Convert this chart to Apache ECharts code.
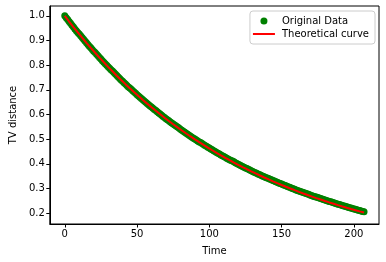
<!DOCTYPE html>
<html>
<head>
<meta charset="utf-8">
<script src="https://cdn.jsdelivr.net/npm/echarts@6/dist/echarts.min.js"></script>
<style>
html,body{margin:0;padding:0;background:#fff;}
#c{width:386px;height:262px;}
</style>
</head>
<body>
<div id="c"></div>
<script>
var dataTimes = [0,1,2,3,4,5,6,7,8,9,10,11,12,13,14,15,16,17,18,19,20,21,22,23,24,25,26,27,28,29,30,31,32,33,34,35,36,37,38,39,40,41,42,43,44,45,46,47,48,49,50,51,52,53,54,55,56,57,58,59,60,61,62,63,64,65,66,67,68,69,70,71,72,73,74,75,76,77,78,79,80,81,82,83,84,85,86,87,88,89,90,91,92,93,94,95,96,97,98,99,100,101,102,103,104,105,106,107,108,109,110,111,112,113,114,115,116,117,118,119,120,121,122,123,124,125,126,127,128,129,130,131,132,133,134,135,136,137,138,139,140,141,142,143,144,145,146,147,148,149,150,151,152,153,154,155,156,157,158,159,160,161,162,163,164,165,166,167,168,169,170,171,172,173,174,175,176,177,178,179,180,181,182,183,184,185,186,187,188,189,190,191,192,193,194,195,196,197,198,199,200,201,202,203,204,205,206,207];
var originalData = [1.000,0.992,0.985,0.977,0.970,0.962,0.955,0.947,0.940,0.933,0.926,0.919,0.912,0.905,0.898,0.891,0.884,0.877,0.871,0.864,0.857,0.851,0.844,0.838,0.831,0.825,0.818,0.812,0.806,0.800,0.794,0.788,0.781,0.776,0.770,0.764,0.758,0.752,0.746,0.740,0.735,0.729,0.724,0.718,0.712,0.707,0.702,0.696,0.691,0.686,0.680,0.675,0.670,0.665,0.660,0.655,0.650,0.645,0.640,0.635,0.630,0.625,0.620,0.616,0.611,0.606,0.602,0.597,0.592,0.588,0.583,0.579,0.575,0.570,0.566,0.562,0.557,0.553,0.549,0.545,0.540,0.536,0.532,0.528,0.524,0.520,0.516,0.512,0.508,0.504,0.501,0.497,0.493,0.489,0.486,0.482,0.478,0.474,0.471,0.467,0.464,0.460,0.457,0.453,0.450,0.446,0.443,0.440,0.436,0.433,0.430,0.427,0.423,0.420,0.417,0.414,0.411,0.408,0.404,0.401,0.398,0.395,0.392,0.389,0.386,0.383,0.381,0.378,0.375,0.372,0.369,0.366,0.364,0.361,0.358,0.356,0.353,0.350,0.348,0.345,0.343,0.340,0.337,0.335,0.332,0.330,0.327,0.325,0.322,0.320,0.318,0.315,0.313,0.311,0.308,0.306,0.304,0.301,0.299,0.297,0.294,0.292,0.290,0.288,0.286,0.284,0.282,0.280,0.278,0.276,0.273,0.271,0.269,0.267,0.265,0.263,0.261,0.259,0.257,0.255,0.253,0.251,0.249,0.247,0.246,0.244,0.242,0.240,0.238,0.236,0.235,0.233,0.231,0.229,0.228,0.226,0.224,0.222,0.221,0.219,0.217,0.216,0.214,0.212,0.211,0.209,0.207,0.206];
var curveTimes = [0,3,6,9,12,15,18,21,24,27,30,33,36,39,42,45,48,51,54,57,60,63,66,69,72,75,78,81,84,87,90,93,96,99,102,105,108,111,114,117,120,123,126,129,132,135,138,141,144,147,150,153,156,159,162,165,168,171,174,177,180,183,186,189,192,195,198,201,204,207];
var theoreticalCurve = [1.0000,0.9771,0.9548,0.9329,0.9116,0.8907,0.8703,0.8504,0.8309,0.8119,0.7933,0.7752,0.7574,0.7401,0.7231,0.7066,0.6904,0.6746,0.6592,0.6441,0.6293,0.6149,0.6008,0.5871,0.5737,0.5605,0.5477,0.5352,0.5229,0.5110,0.4993,0.4878,0.4767,0.4658,0.4551,0.4447,0.4345,0.4246,0.4148,0.4053,0.3961,0.3870,0.3781,0.3695,0.3610,0.3527,0.3447,0.3368,0.3291,0.3215,0.3142,0.3070,0.2999,0.2931,0.2864,0.2798,0.2734,0.2672,0.2610,0.2551,0.2492,0.2435,0.2380,0.2325,0.2272,0.2220,0.2169,0.2120,0.2071,0.2024];
var xTicks = [0,50,100,150,200];
var yTicks = [0.2,0.3,0.4,0.5,0.6,0.7,0.8,0.9,1.0];

var font = 'DejaVu Sans';
var chart = echarts.init(document.getElementById('c'), null, {renderer:'canvas'});
chart.setOption({
  animation:false,
  backgroundColor:'#fff',
  grid:{left:44, top:6, right:7, bottom:38, show:true, borderColor:'#000', borderWidth:1, backgroundColor:'transparent'},
  legend:{
    orient:'vertical', right:11, top:11,
    padding:[4,6,4,3], itemGap:1, itemWidth:22, itemHeight:7,
    borderColor:'#cccccc', borderWidth:1, borderRadius:3, backgroundColor:'rgba(255,255,255,0.8)',
    textStyle:{fontFamily:font, fontSize:10, color:'#000', lineHeight:12, padding:[0,0,0,2]},
    data:[
      {name:'Original Data', icon:'circle'},
      {name:'Theoretical curve', icon:'path://M0,0 L22,0 L22,2 L0,2 Z'}
    ]
  },
  xAxis:{
    type:'value', min:-10.35, max:217.35,
    name:'Time', nameLocation:'middle', nameGap:22,
    nameTextStyle:{fontFamily:font, fontSize:10, color:'#000'},
    axisLine:{show:true, onZero:false, lineStyle:{color:'#000', width:1}},
    axisTick:{show:true, length:3.5, inside:false, customValues:xTicks, lineStyle:{color:'#000'}},
    axisLabel:{customValues:xTicks, fontFamily:font, fontSize:10, color:'#000', margin:5},
    splitLine:{show:false}
  },
  yAxis:{
    type:'value', min:0.156, max:1.04,
    name:'TV distance', nameLocation:'middle', nameGap:30, nameRotate:90,
    nameTextStyle:{fontFamily:font, fontSize:10, color:'#000'},
    axisLine:{show:true, onZero:false, lineStyle:{color:'#000', width:1}},
    axisTick:{show:true, length:3.5, inside:false, customValues:yTicks, lineStyle:{color:'#000'}},
    axisLabel:{customValues:yTicks, fontFamily:font, fontSize:10, color:'#000', margin:5,
      formatter:function(v){return v.toFixed(1);}},
    splitLine:{show:false}
  },
  series:[
    {name:'Original Data', type:'scatter', symbol:'circle', symbolSize:7,
      itemStyle:{color:'#008000', opacity:1},
      data:dataTimes.map(function(t,i){return [t, originalData[i]];}), z:2},
    {name:'Theoretical curve', type:'line', showSymbol:false, symbol:'none',
      lineStyle:{color:'#ff0000', width:2}, itemStyle:{color:'#ff0000'},
      data:curveTimes.map(function(t,i){return [t, theoreticalCurve[i]];}), z:3}
  ]
});
</script>
</body>
</html>
